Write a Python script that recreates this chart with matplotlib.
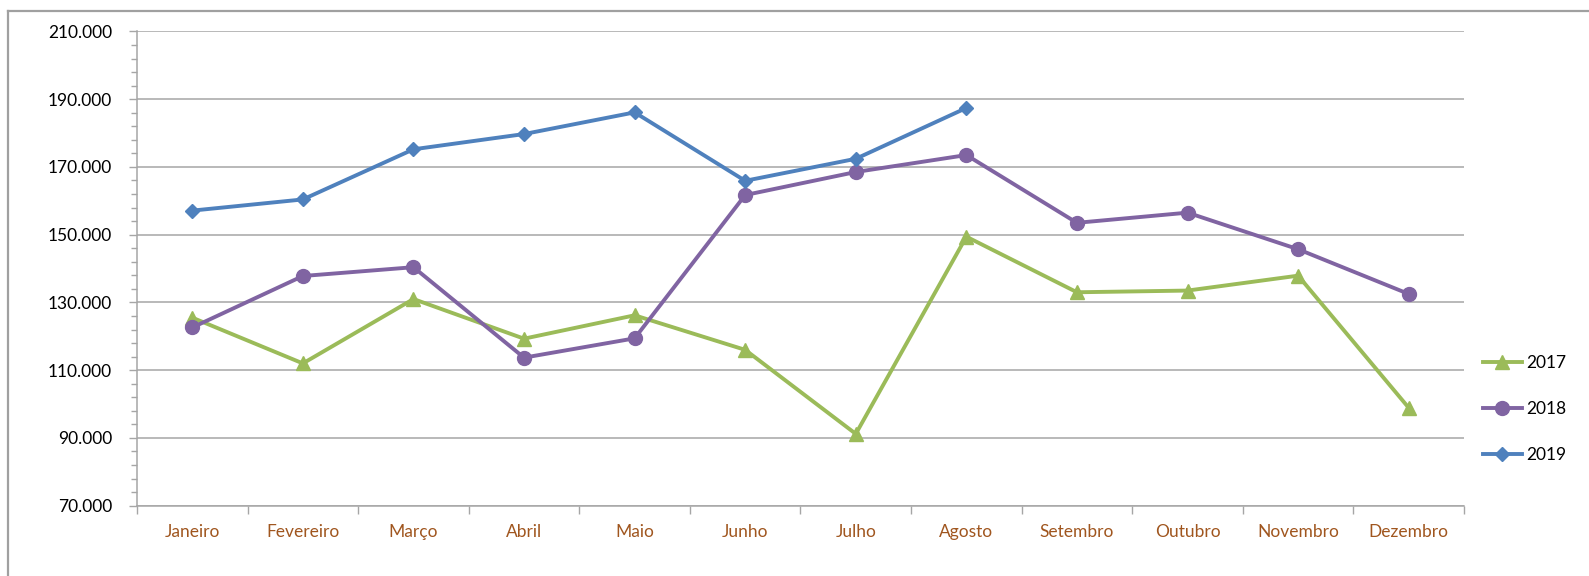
import matplotlib
matplotlib.use("Agg")
import matplotlib.pyplot as plt
from matplotlib.ticker import FuncFormatter, FixedLocator
from matplotlib.lines import Line2D

months = ["Janeiro", "Fevereiro", "Março", "Abril", "Maio", "Junho",
          "Julho", "Agosto", "Setembro", "Outubro", "Novembro", "Dezembro"]
v2017 = [125500, 112000, 131000, 119300, 126200, 116000, 91200, 149400,
         133000, 133500, 137900, 98900]
v2018 = [122600, 137800, 140400, 113700, 119400, 161700, 168500, 173500,
         153500, 156500, 145700, 132500]
v2019 = [157100, 160400, 175200, 179700, 186100, 165900, 172400, 187400]
years = ["2017", "2018", "2019"]
y_major = list(range(70000, 210001, 20000))
y_minor = list(range(70000, 210001, 4000))

W, H = 1589, 576
fig = plt.figure(figsize=(W / 100, H / 100), dpi=100)
plt.rcParams['font.family'] = ['Lato', 'DejaVu Sans']

ax = fig.add_axes([137 / W, 1 - 505.7 / H, (1464 - 137) / W, (505.7 - 31.4) / H])

grid_c = "#A6A6A6"
c17, c18, c19 = "#9BBB59", "#8064A2", "#4F81BD"

x12 = list(range(len(months)))
ax.plot(x12, v2017, color=c17, lw=2.8, marker="^", ms=10.5, label=years[0], zorder=3)
ax.plot(x12, v2018, color=c18, lw=2.8, marker="o", ms=10, label=years[1], zorder=3)
ax.plot(x12[:len(v2019)], v2019, color=c19, lw=2.8, marker="D", ms=7, label=years[2], zorder=3)

ax.set_xlim(-0.5, 11.5)
ax.set_ylim(70000, 210000)
ax.yaxis.set_major_locator(FixedLocator(y_major))
ax.yaxis.set_minor_locator(FixedLocator(y_minor))
ax.yaxis.set_major_formatter(FuncFormatter(lambda v, p: f"{int(v):,}".replace(",", ".")))
ax.grid(axis="y", which="major", color=grid_c, lw=1.1, zorder=0)

ax.set_xticks(x12)
ax.set_xticklabels(months)
ax.xaxis.set_minor_locator(FixedLocator([i - 0.5 for i in range(13)]))

for s in ["top", "right"]:
    ax.spines[s].set_visible(False)
for s in ["left", "bottom"]:
    ax.spines[s].set_color(grid_c)
    ax.spines[s].set_linewidth(1.1)

ax.tick_params(axis="y", which="major", length=6, width=1, color=grid_c,
               labelsize=12.5, labelcolor="black", pad=12)
ax.tick_params(axis="y", which="minor", length=4, width=1, color=grid_c)
ax.tick_params(axis="x", which="major", length=0, labelsize=12.5,
               labelcolor="#A0561F", pad=13)
ax.tick_params(axis="x", which="minor", length=6, width=1, color=grid_c)

leg = fig.legend(loc="center left", bbox_to_anchor=(1482.7 / W, 1 - 409 / H),
                 frameon=False, borderpad=0, borderaxespad=0, handlelength=2.25,
                 handletextpad=0.25, labelspacing=1.72, fontsize=12.5)

# outer chart border (top and left visible)
fig.add_artist(Line2D([8 / W, 1588 / W], [1 - 10.5 / H, 1 - 10.5 / H],
                      color="#A0A0A0", lw=1.6, transform=fig.transFigure))
fig.add_artist(Line2D([8 / W, 8 / W], [1 - 10.5 / H, 0],
                      color="#A0A0A0", lw=1.6, transform=fig.transFigure))

fig.savefig("out.png", dpi=100)
